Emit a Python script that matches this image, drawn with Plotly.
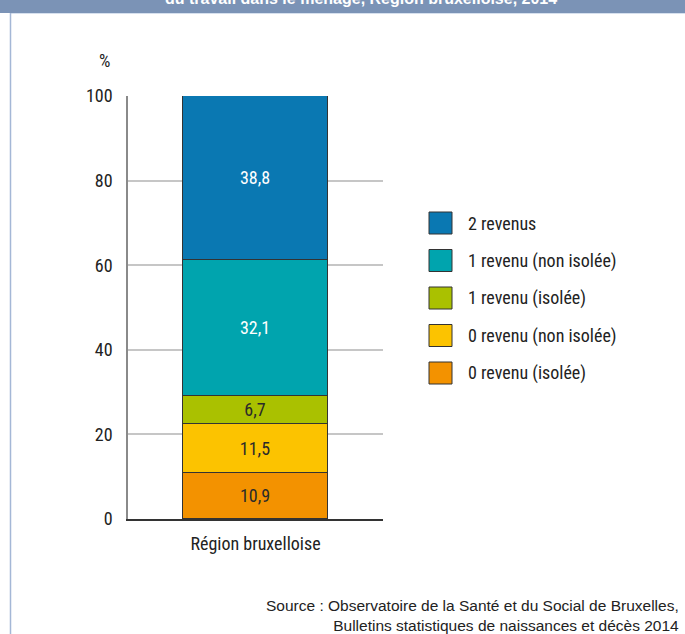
import plotly.graph_objects as go

# Data: share of households by number of incomes from work, Brussels region, 2014
region = ["Région bruxelloise"]
series_names = [
    "0 revenu (isolée)",
    "0 revenu (non isolée)",
    "1 revenu (isolée)",
    "1 revenu (non isolée)",
    "2 revenus",
]
series_values = [10.9, 11.5, 6.7, 32.1, 38.8]
series_colors = ["#f39200", "#fcc300", "#aac100", "#00a4ae", "#0a78b2"]
label_colors = ["#2a2a2a", "#2a2a2a", "#2a2a2a", "#ffffff", "#ffffff"]
y_ticks = [0, 20, 40, 60, 80, 100]
title_text = "du travail dans le ménage, Région bruxelloise, 2014"
source_text = ("Source : Observatoire de la Santé et du Social de Bruxelles,<br>"
               "Bulletins statistiques de naissances et décès 2014")

W, H = 685, 634
M_L, M_R, M_T, M_B = 128, 302, 96, 115
PW, PH = W - M_L - M_R, H - M_T - M_B

NARROW = "Noto Sans Condensed, Roboto Condensed, Roboto, sans-serif"
TEXT = "#222222"


def px_x(p):
    return (p - M_L) / PW


def px_y(p):
    return (H - M_B - p) / PH


fig = go.Figure()
for name, val, col, lc in zip(series_names, series_values, series_colors, label_colors):
    fig.add_trace(go.Bar(
        x=region, y=[val], name=name,
        marker=dict(color=col, line=dict(color="#333333", width=1)),
        width=0.565,
        text=[f"{val:.1f}".replace(".", ",")],
        textposition="inside", insidetextanchor="middle",
        textfont=dict(family=NARROW, size=18, color=lc),
        showlegend=False,
    ))

shapes = [
    # title band
    dict(type="rect", xref="paper", yref="paper",
         x0=px_x(-5), x1=px_x(W + 5), y0=px_y(13), y1=px_y(-5),
         fillcolor="#7b93b6", line=dict(width=0), layer="above"),
    dict(type="line", xref="paper", yref="paper",
         x0=px_x(10), x1=px_x(685), y0=px_y(13.5), y1=px_y(13.5),
         line=dict(color="#d6e0ee", width=1)),
    # left frame line
    dict(type="line", xref="paper", yref="paper",
         x0=px_x(10.5), x1=px_x(10.5), y0=px_y(13), y1=px_y(H + 5),
         line=dict(color="#a4b7d6", width=1.5)),
]

annotations = [
    dict(text=f"<b>{title_text}</b>", xref="paper", yref="paper",
         x=px_x(361), y=px_y(-2), xanchor="center", yanchor="middle",
         showarrow=False, font=dict(family="Liberation Sans, Arial, sans-serif",
                                    size=16, color="#ffffff")),
    dict(text="%", xref="paper", yref="paper", x=px_x(104), y=px_y(60),
         xanchor="center", yanchor="middle", showarrow=False,
         font=dict(family=NARROW, size=18, color=TEXT)),
    dict(text=source_text, xref="paper", yref="paper", x=px_x(681), y=px_y(615),
         xanchor="right", yanchor="middle", align="right", showarrow=False,
         font=dict(family="Liberation Sans, Arial, sans-serif", size=15.5, color=TEXT)),
]

# legend drawn as swatches + labels, top entry = top of stack
legend_top, legend_step = 223, 37.5
for i, (name, col) in enumerate(zip(series_names[::-1], series_colors[::-1])):
    cy = legend_top + i * legend_step
    shapes.append(dict(type="rect", xref="paper", yref="paper",
                       x0=px_x(429), x1=px_x(452), y0=px_y(cy + 11), y1=px_y(cy - 11),
                       fillcolor=col, line=dict(color="#333333", width=1)))
    annotations.append(dict(text=name, xref="paper", yref="paper",
                            x=px_x(466), y=px_y(cy), xanchor="left", yanchor="middle",
                            showarrow=False, font=dict(family=NARROW, size=18, color=TEXT)))

fig.update_layout(
    width=W, height=H,
    margin=dict(l=M_L, r=M_R, t=M_T, b=M_B, pad=0),
    paper_bgcolor="#ffffff", plot_bgcolor="#ffffff",
    barmode="stack", bargap=0,
    uniformtext=dict(minsize=18, mode="show"),
    shapes=shapes, annotations=annotations,
    xaxis=dict(range=[-0.5, 0.5], showgrid=False, showline=True,
               linecolor="#333333", linewidth=1.5, ticks="",
               ticklabelstandoff=8,
               tickfont=dict(family=NARROW, size=18, color=TEXT), fixedrange=True),
    yaxis=dict(range=[0, 100], tickvals=y_ticks, showgrid=True,
               gridcolor="#c6c6c6", gridwidth=1.5, zeroline=False,
               showline=True, linecolor="#8a8a8a", linewidth=1.5, ticks="",
               ticklabelstandoff=10,
               tickfont=dict(family=NARROW, size=18, color=TEXT), fixedrange=True),
    showlegend=False,
)

fig.write_html("out.html")
